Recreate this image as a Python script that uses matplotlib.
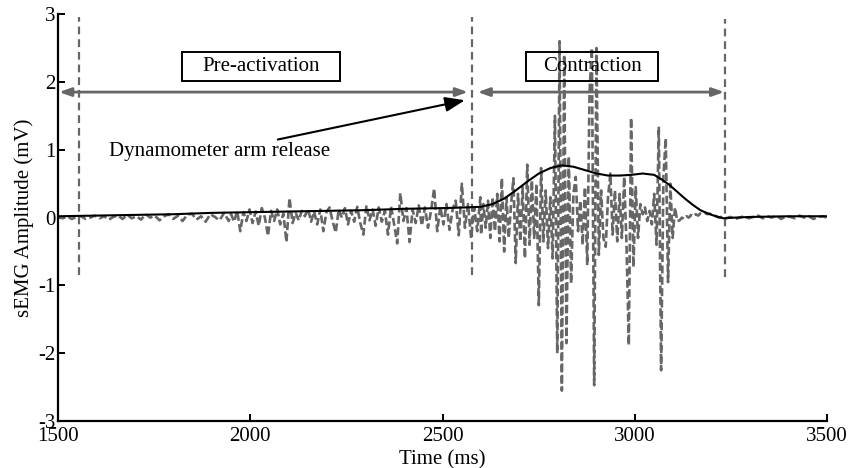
import numpy as np
import matplotlib
matplotlib.use("Agg")
import matplotlib.pyplot as plt
from matplotlib.patches import Rectangle

plt.rcParams["font.family"] = ["Liberation Serif", "DejaVu Serif"]
plt.rcParams["axes.unicode_minus"] = False

# --- surowy sygnał sEMG, cztery odcinki o stałym kroku ---
quiet_start, quiet_step = 1500, 12
quiet_vals = [0.01, -0.01, 0.02, -0.02, 0.01, 0.02, -0.02, 0.00, 0.03, -0.01,
              0.02, -0.03, 0.01, 0.03, -0.02, 0.04, -0.01, 0.02, -0.03, 0.05,
              0.00, 0.03, -0.04, 0.02, 0.05, -0.02, 0.03, -0.05, 0.04, 0.06,
              -0.03, 0.02, -0.06, 0.05, 0.01, -0.04, 0.07, -0.05]

pre_start, pre_step = 1950, 8
pre_vals = [0.05, -0.06, 0.10, -0.20, 0.08, -0.05, 0.12, -0.08, 0.09, -0.12,
            0.14, 0.00, -0.27, 0.10, -0.05, 0.12, -0.10, 0.06, -0.36, 0.29,
            -0.08, 0.07, -0.04, 0.10, 0.02, 0.13, -0.06, 0.09, -0.10, 0.12,
            -0.20, 0.08, 0.15, -0.05, -0.22, 0.12, 0.00, 0.14, -0.10, 0.10,
            -0.06, 0.16, -0.08, -0.25, 0.18, -0.04, 0.12, -0.12, 0.15, -0.06,
            0.10, -0.25, 0.16, -0.10, -0.38, 0.36, -0.05, 0.14, -0.36, 0.12,
            -0.08, 0.18, -0.12, 0.15, -0.15, 0.10, 0.43, -0.20, 0.16, -0.10,
            0.20, -0.18, 0.12, 0.25, -0.26, 0.50, -0.15, 0.20, -0.30, 0.15,
            -0.20, 0.30]

con_start, con_step = 2600, 6
con_vals = [-0.25, 0.20, -0.15, 0.25, -0.30, 0.30, -0.20, 0.35, -0.35, 0.58,
            -0.50, 0.30, -0.30, 0.20, 0.58, -0.67, 0.35, -0.35, 0.45, -0.60,
            0.78, -0.40, 0.55, -0.30, 0.50, -1.29, 0.73, -0.35, 0.40, -0.45,
            0.30, -0.60, 1.50, -2.00, 2.60, -2.55, 2.40, -1.85, 0.90, -0.97,
            0.35, 0.60, -0.20, 0.25, -0.40, 0.45, -0.70, 1.85, 2.50, -2.47,
            2.50, -0.55, 0.40, -0.30, -0.43, 0.30, 0.65, -0.25, 0.40, -0.35,
            0.35, -0.30, 0.60, -0.40, -1.88, 1.47, -0.73, 0.45, -0.30, 0.20,
            0.05, 0.15, -0.05, 0.10, -0.10, 0.35, -0.40, 1.34, -2.25, 0.60,
            1.17, -0.95, 0.50, -0.30, 0.15, -0.05, -0.04, 0.00, -0.02, 0.02,
            0.00, 0.04, 0.02, 0.05, 0.03, 0.06, 0.05, 0.07, 0.05, 0.06,
            0.04, 0.03, 0.02, 0.00, 0.01, -0.01]

post_start, post_step = 3236, 12
post_vals = [-0.01, 0.01, -0.02, 0.00, 0.02, -0.01, 0.01, 0.03, -0.01, 0.02,
             0.00, 0.03, -0.02, 0.02, 0.01, -0.01, 0.03, 0.00, 0.02, -0.02,
             0.01, 0.02, 0.00]

# --- obwiednia (linia ciągła) ---
env_t = [1500, 1600, 1700, 1800, 1900, 2000, 2100, 2200, 2300, 2400, 2500,
         2560, 2600, 2630, 2660, 2690, 2720, 2750, 2780, 2810, 2840, 2870,
         2900, 2930, 2960, 2990, 3020, 3050, 3070, 3090, 3110, 3130, 3150,
         3170, 3190, 3210, 3230, 3260, 3300, 3400, 3500]
env_v = [0.02, 0.03, 0.04, 0.05, 0.07, 0.08, 0.09, 0.10, 0.11, 0.13, 0.14,
         0.15, 0.16, 0.20, 0.28, 0.40, 0.53, 0.65, 0.73, 0.77, 0.75, 0.70,
         0.65, 0.62, 0.62, 0.63, 0.65, 0.63, 0.56, 0.48, 0.38, 0.28, 0.19,
         0.11, 0.06, 0.02, -0.01, 0.00, 0.01, 0.02, 0.02]

# --- znaczniki faz ---
marker_t = [1555, 2577, 3233]
marker_top = [2.95, 2.95, 2.93]
marker_bottom = [-0.85, -0.85, -0.87]

GRAY = "#666666"


def segment(start, step, vals):
    t = start + step * np.arange(len(vals))
    return t, np.array(vals)


segs = [segment(quiet_start, quiet_step, quiet_vals),
        segment(pre_start, pre_step, pre_vals),
        segment(con_start, con_step, con_vals),
        segment(post_start, post_step, post_vals)]
sig_t = np.concatenate([s[0] for s in segs])
sig_v = np.concatenate([s[1] for s in segs])

fig = plt.figure(figsize=(8.52, 4.68), dpi=100)
ax = fig.add_axes([0.068, 0.100, 0.903, 0.870])

ax.plot(sig_t, sig_v, color=GRAY, lw=1.9, linestyle=(0, (3, 1.3)), zorder=2)
ax.plot(env_t, env_v, color="black", lw=1.5, zorder=3)

for x, y0, y1 in zip(marker_t, marker_bottom, marker_top):
    ax.plot([x, x], [y0, y1], color=GRAY, lw=1.6, linestyle=(0, (3.5, 2.2)), zorder=2)

# strzałki faz
arrow_kw = dict(arrowstyle="<|-|>,head_length=0.7,head_width=0.25",
                color=GRAY, lw=2.0, shrinkA=0, shrinkB=0)
ax.annotate("", xy=(1503, 1.85), xytext=(2566, 1.85), arrowprops=arrow_kw)
ax.annotate("", xy=(2591, 1.85), xytext=(3232, 1.85), arrowprops=arrow_kw)

# ramki z opisami
for (x0, x1), label in [((1822, 2234), "Pre-activation"),
                        ((2717, 3060), "Contraction")]:
    ax.add_patch(Rectangle((x0, 2.01), x1 - x0, 0.43, fill=False,
                           edgecolor="black", lw=1.4, zorder=4))
    ax.text((x0 + x1) / 2, 2.225, label, ha="center", va="center",
            fontsize=15, zorder=5)

ax.annotate("Dynamometer arm release", xy=(2558, 1.73), xytext=(2207, 0.97),
            ha="right", va="center", fontsize=15,
            arrowprops=dict(arrowstyle="-|>,head_length=0.8,head_width=0.3",
                            color="black", lw=1.5, shrinkA=0, shrinkB=0))

ax.set_xlim(1500, 3500)
ax.set_ylim(-3, 3)
ax.set_xticks([1500, 2000, 2500, 3000, 3500])
ax.set_yticks([-3, -2, -1, 0, 1, 2, 3])
ax.tick_params(direction="in", length=5, width=1.4, labelsize=15)
ax.tick_params(axis="x", pad=4)
ax.tick_params(axis="y", pad=2)
for side in ["top", "right"]:
    ax.spines[side].set_visible(False)
for side in ["left", "bottom"]:
    ax.spines[side].set_linewidth(1.6)

ax.set_xlabel("Time (ms)", fontsize=15, labelpad=3)
ax.set_ylabel("sEMG Amplitude (mV)", fontsize=15, labelpad=3)

fig.savefig("out.png", dpi=100)
